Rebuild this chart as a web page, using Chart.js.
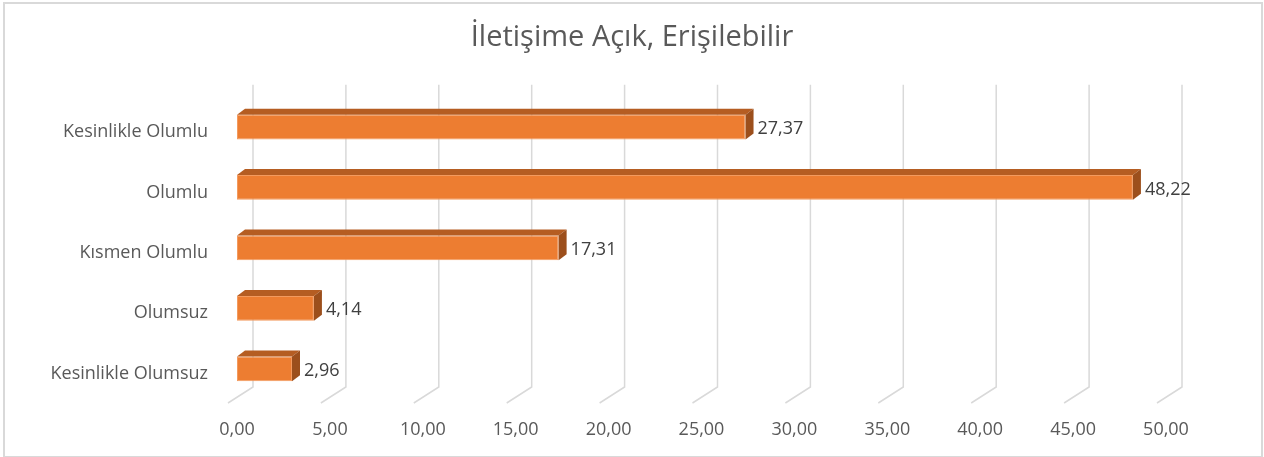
<!DOCTYPE html>
<html lang="tr">
<head>
<meta charset="utf-8">
<title>İletişime Açık, Erişilebilir</title>
<script src="https://cdn.jsdelivr.net/npm/chart.js@4/dist/chart.umd.min.js"></script>
<style>
    html, body { margin: 0; padding: 0; background: #fff; }
    #wrap { position: relative; width: 1264px; height: 457px; }
    #frame {
        position: absolute; left: 3px; top: 2px; width: 1256px; height: 452px;
        border: 2px solid #d9d9d9; pointer-events: none;
    }
</style>
</head>
<body>
<div id="wrap">
    <canvas id="chart" width="1264" height="457"></canvas>
    <div id="frame"></div>
</div>
<script>
// Veriler
const categories = ['Kesinlikle Olumlu', 'Olumlu', 'Kısmen Olumlu', 'Olumsuz', 'Kesinlikle Olumsuz'];
const values = [27.37, 48.22, 17.31, 4.14, 2.96];
const axisMin = 0;
const axisMax = 50;
const axisStep = 5;

const chartTitle = 'İletişime Açık, Erişilebilir';
const fontFamily = '"Open Sans", "Noto Sans", sans-serif';

// Türkçe sayı biçimi (virgül ile)
function fmt(v) {
    return v.toFixed(2).replace('.', ',');
}

// 3B ızgara çizgileri (arka duvar + zemin)
const grid3d = {
    id: 'grid3d',
    beforeDatasetsDraw(chart) {
        const ctx = chart.ctx;
        const xs = chart.scales.x;
        const area = chart.chartArea;
        ctx.save();
        ctx.strokeStyle = '#d9d9d9';
        ctx.lineWidth = 1.5;
        for (let v = axisMin; v <= axisMax; v += axisStep) {
            const px = xs.getPixelForValue(v);
            const backX = px + 16;
            const frontX = px - 9;
            ctx.beginPath();
            ctx.moveTo(backX, area.top - 12);
            ctx.lineTo(backX, area.bottom - 12);
            ctx.lineTo(frontX, area.bottom + 4);
            ctx.stroke();
        }
        ctx.restore();
    }
};

// Çubuklara üst ve yan yüz ekle
const bars3d = {
    id: 'bars3d',
    afterDatasetsDraw(chart) {
        const ctx = chart.ctx;
        const meta = chart.getDatasetMeta(0);
        const dx = 8, dy = -6;
        ctx.save();
        meta.data.forEach((bar, i) => {
            const p = bar.getProps(['x', 'y', 'base', 'height'], true);
            const top = p.y - p.height / 2;
            const bottom = p.y + p.height / 2;
            // üst yüz
            ctx.fillStyle = '#b55d22';
            ctx.beginPath();
            ctx.moveTo(p.base, top);
            ctx.lineTo(p.base + dx, top + dy);
            ctx.lineTo(p.x + dx, top + dy);
            ctx.lineTo(p.x, top);
            ctx.closePath();
            ctx.fill();
            // yan yüz
            ctx.fillStyle = '#9c4f1c';
            ctx.beginPath();
            ctx.moveTo(p.x, top);
            ctx.lineTo(p.x + dx, top + dy);
            ctx.lineTo(p.x + dx, bottom + dy);
            ctx.lineTo(p.x, bottom);
            ctx.closePath();
            ctx.fill();
            // değer etiketi
            ctx.fillStyle = '#404040';
            ctx.font = '18px ' + fontFamily;
            ctx.textAlign = 'left';
            ctx.textBaseline = 'middle';
            ctx.fillText(fmt(values[i]), p.x + dx + 4, p.y + 2);
        });
        ctx.restore();
    }
};

new Chart(document.getElementById('chart'), {
    type: 'bar',
    data: {
        labels: categories,
        datasets: [{
            data: values,
            backgroundColor: '#ed7d31',
            borderColor: '#f39a5e',
            borderWidth: 1,
            borderSkipped: false,
            barPercentage: 0.82,
            categoryPercentage: 0.5
        }]
    },
    options: {
        indexAxis: 'y',
        responsive: false,
        animation: false,
        layout: {
            padding: 0
        },
        plugins: {
            legend: { display: false },
            tooltip: { enabled: false },
            title: {
                display: true,
                text: chartTitle,
                color: '#595959',
                font: { family: fontFamily, size: 29, weight: 'normal', lineHeight: 1.2 },
                padding: { top: 20, bottom: 42 }
            }
        },
        scales: {
            x: {
                min: axisMin,
                max: axisMax,
                grid: { display: false },
                border: { display: false },
                ticks: {
                    stepSize: axisStep,
                    padding: 12,
                    color: '#595959',
                    font: { family: fontFamily, size: 18 },
                    callback: (v) => fmt(v)
                },
                afterFit(scale) { scale.height = 58; }
            },
            y: {
                grid: { display: false },
                border: { display: false },
                ticks: {
                    padding: 21,
                    labelOffset: 5,
                    color: '#595959',
                    font: { family: fontFamily, size: 18 }
                },
                afterFit(scale) { scale.width = 237; }
            },
            // boş sağ eksen: etiketler için yer bırakır
            yRight: {
                type: 'linear',
                position: 'right',
                grid: { display: false },
                border: { display: false },
                ticks: { display: false },
                afterFit(scale) { scale.width = 98; }
            }
        }
    },
    plugins: [grid3d, bars3d]
});
</script>
</body>
</html>
